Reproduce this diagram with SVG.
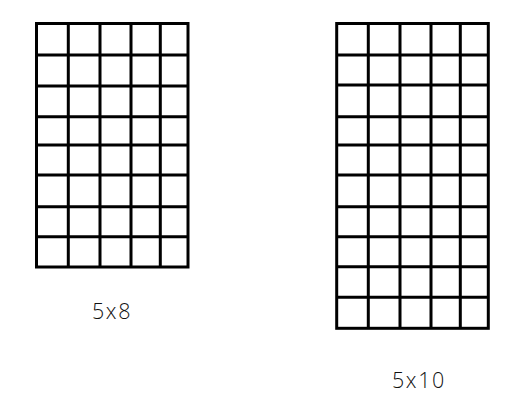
<svg xmlns="http://www.w3.org/2000/svg" width="508" height="407" viewBox="0 0 508 407">
<style>
.g{fill:none;stroke:#000;stroke-width:3}
.t{font-family:"Open Sans",sans-serif;font-size:21.5px;font-weight:300;fill:#111;letter-spacing:1.6px}
</style>
<rect width="508" height="407" fill="#fff"/>
<g id="grid-5x8">
<rect class="g" x="36.5" y="23.5" width="151.5" height="243.5"/>
<path class="g" d="M68.3 23.5V267M100 23.5V267M131 23.5V267M160.3 23.5V267M36.5 55H188M36.5 86H188M36.5 116.7H188M36.5 145H188M36.5 175H188M36.5 206.7H188M36.5 236.7H188"/>
</g>
<g id="grid-5x10">
<rect class="g" x="336.7" y="23.5" width="151.6" height="304.8"/>
<path class="g" d="M368.3 23.5V328.3M400 23.5V328.3M431 23.5V328.3M460.3 23.5V328.3M336.7 55H488.3M336.7 85H488.3M336.7 116.7H488.3M336.7 145H488.3M336.7 175H488.3M336.7 206.7H488.3M336.7 236.7H488.3M336.7 266.7H488.3M336.7 297.3H488.3"/>
</g>
<text class="t" x="92" y="319">5x8</text>
<text class="t" x="392" y="388">5x10</text>
</svg>
